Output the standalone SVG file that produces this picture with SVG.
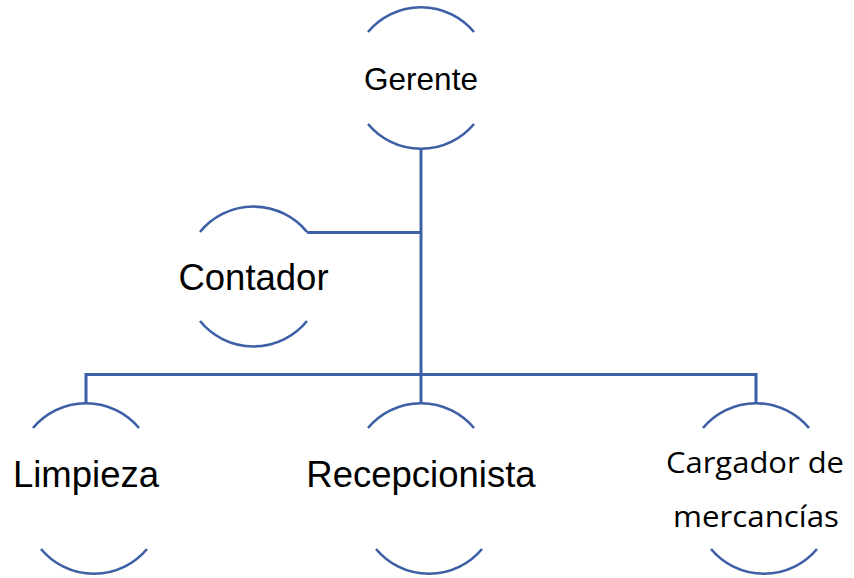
<svg xmlns="http://www.w3.org/2000/svg" width="854" height="578" viewBox="0 0 854 578">
<style>
.arc{fill:none;stroke:#3C5FA5;stroke-width:2.6}
.ln{fill:none;stroke:#3C5FA5;stroke-width:3}
.t{font-family:"Liberation Sans",Arial,sans-serif;fill:#000;text-anchor:middle}
.c{font-family:"Open Sans","Noto Sans",sans-serif;fill:#000;text-anchor:middle}
</style>
<rect width="854" height="578" fill="#fff"/>
<g id="connectors">
<path class="ln" d="M421 148 V403"/>
<path class="ln" d="M307 232.5 H421"/>
<path class="ln" d="M86 403 V374.5 H756 V403"/>
</g>
<g id="gerente">
<path class="arc" d="M368 32 A69 69 0 0 1 474 32"/>
<path class="arc" d="M368 124 A69 69 0 0 0 474 124"/>
<text class="t" x="421" y="90" font-size="31.5">Gerente</text>
</g>
<g id="contador">
<path class="arc" d="M200 232 A69 69 0 0 1 307 232"/>
<path class="arc" d="M200 321 A69 69 0 0 0 307 321"/>
<text class="t" x="253.5" y="290" font-size="36.5">Contador</text>
</g>
<g id="limpieza">
<path class="arc" d="M33 428 A69 69 0 0 1 139 428"/>
<path class="arc" d="M41 549 A69 69 0 0 0 147 549"/>
<text class="t" x="86" y="487" font-size="36.5">Limpieza</text>
</g>
<g id="recepcionista">
<path class="arc" d="M368 428 A69 69 0 0 1 474 428"/>
<path class="arc" d="M376 549 A69 69 0 0 0 482 549"/>
<text class="t" x="421" y="487" font-size="36.5">Recepcionista</text>
</g>
<g id="cargador">
<path class="arc" d="M703 428 A69 69 0 0 1 809 428"/>
<path class="arc" d="M711 549 A69 69 0 0 0 817 549"/>
<text class="c" x="755" y="473" font-size="28.5" textLength="178" lengthAdjust="spacingAndGlyphs">Cargador de</text>
<text class="c" x="756" y="527" font-size="28.5" textLength="166" lengthAdjust="spacingAndGlyphs">mercancías</text>
</g>
</svg>
